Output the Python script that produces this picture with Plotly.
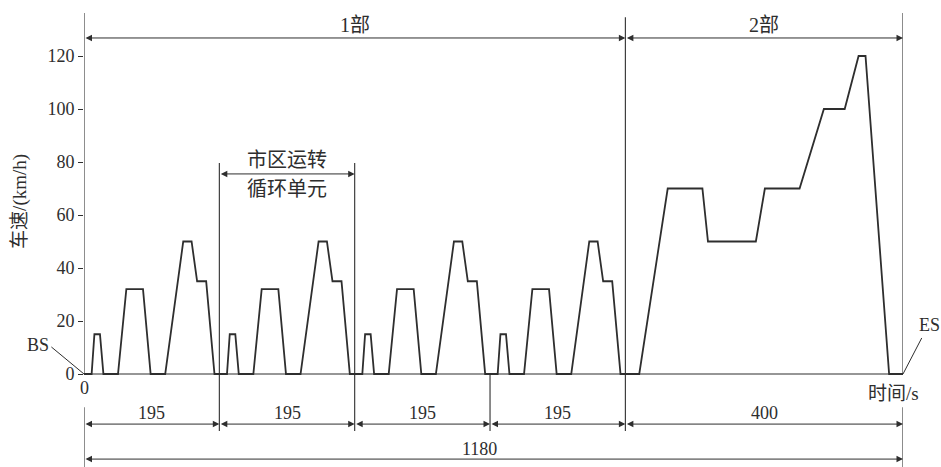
import plotly.graph_objects as go

# --- NEDC driving cycle breakpoints -------------------------------------
# Part 1: urban (ECE) elementary cycle, 195 s, repeated four times
ece_time = [0, 11, 15, 23, 28, 49, 61, 85, 96, 117, 143, 155, 163, 176, 188, 195]
ece_speed = [0, 0, 15, 15, 0, 0, 32, 32, 0, 0, 50, 50, 35, 35, 0, 0]
ece_repeats = 4
ece_length = 195

# Part 2: extra-urban (EUDC) cycle, 400 s
eudc_time = [0, 20, 61, 111, 119, 188, 201, 251, 286, 316, 336, 346, 380, 400]
eudc_speed = [0, 0, 70, 70, 50, 50, 70, 70, 100, 100, 120, 120, 0, 0]
eudc_length = 400

total_length = 1180
y_ticks = [0, 20, 40, 60, 80, 100, 120]
segment_labels = ["195", "195", "195", "195", "400"]
part_labels = ["1部", "2部"]
unit_label = ["市区运转", "循环单元"]

# assemble the full speed trace
t_all, v_all = [], []
for k in range(ece_repeats):
    off = k * ece_length
    t_all += [off + t for t in ece_time]
    v_all += ece_speed
part1_end = ece_repeats * ece_length
t_all += [part1_end + t for t in eudc_time]
v_all += eudc_speed

INK = "#2e2e2e"
FONT = "Liberation Serif, Noto Sans CJK SC, serif"

fig = go.Figure()
fig.add_trace(go.Scatter(x=t_all, y=v_all, mode="lines",
                         line=dict(color=INK, width=1.8), hoverinfo="skip",
                         showlegend=False))

shapes = []
annos = []


def px(x):
    """Time value -> paper fraction (lets decorations sit outside the time range)."""
    return x / total_length


def vline(x, y0, y1):
    shapes.append(dict(type="line", xref="x", yref="y", x0=x, x1=x, y0=y0, y1=y1,
                       line=dict(color=INK, width=1.1)))


def hline(x0, x1, y):
    shapes.append(dict(type="line", xref="x", yref="y", x0=x0, x1=x1, y0=y, y1=y,
                       line=dict(color=INK, width=1.1)))


def dim_arrow(x0, x1, y):
    annos.append(dict(x=x1, y=y, ax=x0, ay=y, xref="x", yref="y", axref="x", ayref="y",
                      text="", showarrow=True, arrowhead=2, arrowside="end+start",
                      arrowsize=1.3, arrowwidth=1.0, arrowcolor=INK,
                      standoff=0, startstandoff=0))


def label(x, y, text, size=18, angle=0):
    annos.append(dict(x=px(x), y=y, xref="paper", yref="y", text=text, showarrow=False,
                      textangle=angle, xanchor="center", yanchor="middle",
                      font=dict(family=FONT, size=size, color=INK)))


def leader(x0, y0, x1, y1):
    shapes.append(dict(type="line", xref="paper", yref="y", x0=px(x0), y0=y0,
                       x1=px(x1), y1=y1, line=dict(color=INK, width=1.0)))


# axes drawn at the origin
vline(0, 0, 136.2)
hline(0, total_length, 0)
vline(total_length, 0, 136.2)

# upper dimension: part 1 / part 2
vline(part1_end, -21.5, 134.6)
dim_arrow(0, part1_end, 126.8)
dim_arrow(part1_end, total_length, 126.8)
label(part1_end / 2, 131.7, part_labels[0], size=20)
label(part1_end + eudc_length / 2, 131.7, part_labels[1], size=20)

# one urban elementary cycle
vline(ece_length, -21.5, 79.6)
vline(2 * ece_length, -21.5, 79.6)
dim_arrow(ece_length, 2 * ece_length, 75.5)
label(1.5 * ece_length, 80.6, unit_label[0], size=20)
label(1.5 * ece_length, 69.8, unit_label[1], size=20)

# lower dimensions
vline(3 * ece_length, 0, -21.5)
vline(0, -12.5, -36)
vline(total_length, -12.5, -36)
bounds = [0, 195, 390, 585, 780, 1180]
for i, txt in enumerate(segment_labels):
    dim_arrow(bounds[i], bounds[i + 1], -18.9)
    label((bounds[i] + bounds[i + 1]) / 2, -14.6, txt)
dim_arrow(0, total_length, -32.1)
label(570, -28.2, str(total_length))

# axis annotations
label(0, -5.4, "0")
label(1167, -7.2, "时间/s", size=19)
label(-92, 65, "车速/(km/h)", size=19, angle=-90)

# start / end markers
leader(-47, 10.2, 0, 0)
label(-66, 11.0, "BS")
leader(total_length, 0, 1207, 13.6)
label(1218, 18.5, "ES")

fig.update_layout(
    width=941, height=467,
    margin=dict(l=84, r=38, t=0, b=0),
    paper_bgcolor="white", plot_bgcolor="white",
    shapes=shapes, annotations=annos,
    xaxis=dict(range=[0, total_length], visible=False, fixedrange=True),
    yaxis=dict(range=[-35.09, 141.13], tickvals=y_ticks, ticks="outside", ticklen=5,
               tickwidth=1.1, tickcolor=INK, showgrid=False, zeroline=False,
               showline=False, tickfont=dict(family=FONT, size=18, color=INK),
               fixedrange=True),
    showlegend=False,
)

fig.write_html("out.html", config={"displayModeBar": False})
